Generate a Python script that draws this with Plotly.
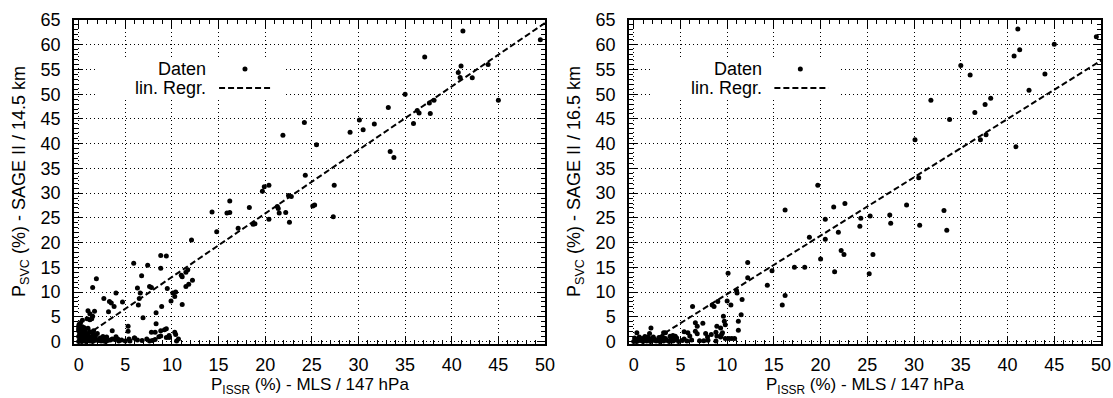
import plotly.graph_objects as go

# ---------------- data ----------------
left_x = [41.2, 49.5, 37.1, 41.0, 40.7, 40.9, 42.2, 43.9, 45.0, 35.0, 33.2, 37.6, 38.1, 36.3, 36.5, 37.7,
          35.9, 30.1, 31.7, 29.1, 30.5, 24.2, 21.9, 25.5, 33.4, 33.8, 24.3, 27.4, 19.7, 19.9, 20.4, 22.5,
          22.8, 25.3, 25.1, 27.3, 20.4, 21.4, 21.3, 21.5, 22.2, 22.6,
          12.1, 14.3, 14.8, 15.9, 16.2, 16.2, 17.1, 18.3, 18.7, 18.9,
          8.8, 9.4, 5.9, 7.4, 8.8, 1.9, 1.5, 6.75, 11.5, 11.7, 12.2, 11.5, 11.8, 11.0, 11.1, 6.3, 6.6,
          7.6, 7.8, 9.5, 10.4, 10.3, 10.1, 9.9, 11.1, 4.0, 2.7, 3.3, 3.5, 3.2, 4.7, 6.5, 6.4, 3.8, 8.3,
          8.9, 6.9, 8.3, 5.3, 5.3, 3.6, 1.0, 1.2, 1.7, 1.5, 1.4, 1.2, 0.9, 0.4, 0.2, 0.05, 0.6, 0.0,
          8.8, 9.4, 7.8, 10.3, 10.4, 9.7, 8.6, 9.4, 9.7, 10.7, 10.5, 7.3, 7.6, 6.3, 5.4, 5.5, 4.0, 4.2,
          3.9, 3.6, 3.4, 2.6, 2.5, 2.8, 2.7, 2.9, 1.2, 1.5, 8.2, 8.8, 9.2, 5.97,
          0.0, 0.1, 0.2, 0.3, 0.4, 0.5, 0.6, 0.7, 0.8, 0.9, 1.0, 1.1, 1.2, 1.3, 1.4, 1.6, 1.7, 1.8, 1.9,
          2.1, 2.3, 0.0, 0.1, 0.2, 0.0, 0.3, 0.5, 0.7, 0.4, 0.9, 1.2, 0.15, 0.6, 1.5, 0.0, 0.25, 1.0,
          1.6, 2.0, 0.35, 0.8, 1.5, 2.4, 3.1, 3.0, 4.3, 4.6, 5.0, 6.0, 6.8, 7.9, 8.2]
left_y = [62.8, 61.0, 57.5, 55.7, 54.4, 53.4, 53.3, 56.0, 48.8, 50.0, 47.3, 48.2, 48.8, 46.7, 46.2, 46.1,
          44.1, 44.8, 44.0, 42.3, 42.8, 44.3, 41.7, 39.8, 38.4, 37.2, 33.6, 31.6, 30.4, 31.3, 31.6, 29.5,
          29.3, 27.6, 27.4, 25.2, 24.7, 26.9, 27.3, 26.0, 26.1, 24.1,
          20.5, 26.2, 22.2, 26.0, 26.1, 28.4, 22.9, 27.1, 23.7, 23.8,
          17.4, 17.3, 15.8, 15.4, 14.8, 12.7, 10.9, 13.3, 14.0, 14.5, 12.4, 11.1, 11.6, 13.4, 13.1, 10.8, 9.8,
          11.1, 10.9, 10.7, 10.0, 9.1, 9.8, 8.2, 7.5, 9.8, 8.7, 8.1, 7.8, 6.0, 8.0, 8.7, 7.4, 7.1, 5.8,
          7.1, 4.8, 3.6, 3.1, 2.1, 2.2, 6.2, 5.6, 6.1, 5.1, 4.6, 4.4, 4.6, 4.3, 3.8, 3.5, 2.8, 2.2,
          2.2, 2.6, 1.9, 1.9, 1.4, 1.2, 0.95, 0.8, 0.8, 0.5, 0.1, 0.5, 0.1, 0.3, 0.5, 0.1, 0.95, 0.5,
          0.4, 0.5, 0.3, 1.0, 0.5, 0.6, 0.1, 0.0, 0.4, 0.8, 1.9, 1.1, 2.4, 0.7,
          0.0, 0.3, 0.1, 0.6, 0.2, 0.9, 0.4, 0.1, 0.7, 0.3, 1.2, 0.5, 0.1, 0.9, 0.3, 0.6, 0.2, 1.1, 0.4,
          0.2, 0.7, 1.0, 1.5, 2.0, 2.6, 1.3, 1.8, 2.3, 3.0, 1.6, 2.0, 0.8, 1.4, 1.5, 3.1, 2.5, 2.7,
          2.2, 1.6, 0.0, 0.0, 0.0, 0.1, 0.2, 0.9, 0.1, 0.3, 0.1, 0.7, 0.2, 0.2, 0.4]

right_x = [41.1, 49.5, 45.0, 41.3, 40.7, 35.0, 36.0, 44.0, 42.3, 31.8, 38.2, 37.6, 36.5, 33.8, 37.1, 37.7,
           40.9, 30.1, 30.5,
           19.7, 16.2, 21.4, 22.6, 20.5, 24.3, 25.3, 27.4, 27.5, 24.2, 21.9, 18.8, 20.5, 22.2, 22.5, 25.6,
           20.0, 17.2, 18.3, 21.5, 25.2, 14.8, 12.2, 12.2, 14.3, 16.2, 15.9, 11.6, 29.2, 33.2, 30.6, 33.5,
           10.1, 11.0, 11.06, 10.0, 10.4, 9.0, 9.6, 9.7, 9.8, 8.9, 9.3, 8.4, 8.6, 6.3, 6.6, 6.8, 7.4, 6.6,
           6.8, 5.4, 5.8, 6.0, 7.7, 7.9, 8.3, 8.8, 7.05, 7.5, 7.95, 8.9, 8.8, 9.4, 9.3, 9.5, 9.8, 10.2,
           10.5, 10.8, 11.2, 11.2, 11.5, 4.2, 3.2, 1.85, 0.34, 1.7, 3.4, 3.9, 4.1, 4.45, 4.6, 5.4,
           0.0, 0.2, 0.4, 0.5, 0.7, 0.9, 1.0, 1.1, 1.3, 1.4, 1.6, 1.8, 1.9, 2.0, 2.2, 2.4, 2.6, 2.8, 3.0,
           3.2, 3.4, 3.6, 3.8, 4.0, 4.2, 0.1, 0.6, 1.2, 2.1, 2.7, 3.1, 4.4, 4.8, 5.2, 5.7, 6.2, 0.3, 1.5]
right_y = [63.2, 61.6, 60.1, 59.0, 57.7, 55.8, 53.9, 54.1, 50.8, 48.8, 49.2, 47.9, 46.3, 44.9, 40.8, 41.8,
           39.4, 40.8, 33.1,
           31.6, 26.6, 27.2, 27.9, 24.7, 24.9, 25.4, 25.6, 23.9, 23.3, 22.1, 21.1, 20.7, 18.4, 17.6, 17.6,
           16.7, 15.0, 15.0, 14.1, 13.7, 14.3, 16.0, 12.9, 11.4, 9.3, 7.4, 8.5, 27.6, 26.5, 23.5, 22.5,
           13.8, 10.3, 9.8, 8.2, 7.4, 8.1, 5.1, 4.1, 3.4, 3.1, 2.75, 7.4, 7.1, 7.1, 3.8, 3.1, 3.7, 2.1,
           1.55, 2.0, 1.75, 1.1, 1.6, 0.9, 1.4, 1.9, 0.15, 0.15, 0.25, 1.1, 0.1, 1.4, 0.9, 1.75, 0.6, 0.6,
           0.6, 0.6, 2.3, 4.1, 5.4, 1.2, 1.75, 2.75, 1.75, 1.6, 1.75, 1.07, 0.87, 1.07, 0.7, 0.5,
           0.0, 0.3, 0.1, 0.5, 0.2, 0.6, 0.0, 0.3, 0.7, 0.1, 0.4, 0.0, 0.6, 0.2, 0.5, 0.1, 0.3, 0.0, 0.4,
           0.1, 0.6, 0.2, 0.0, 0.4, 0.1, 0.7, 0.9, 1.0, 0.9, 0.8, 0.9, 0.3, 0.0, 0.2, 0.1, 0.3, 0.0, 0.9]

# regression line end points
left_reg_x = [0.0, 50.0]
left_reg_y = [0.2, 64.4]
right_reg_x = [1.7, 50.0]
right_reg_y = [-0.2, 56.8]

x_ticks = [0, 5, 10, 15, 20, 25, 30, 35, 40, 45, 50]
y_ticks = [0, 5, 10, 15, 20, 25, 30, 35, 40, 45, 50, 55, 60, 65]
legend_labels = ["Daten", "lin. Regr."]
x_title = "P<sub>ISSR</sub> (%) - MLS / 147 hPa"
y_titles = ["P<sub>SVC</sub> (%) - SAGE II / 14.5 km", "P<sub>SVC</sub> (%) - SAGE II / 16.5 km"]

# ---------------- figure ----------------
W, H = 1113, 398
FONT = "Liberation Sans, Arial, Helvetica, sans-serif"
FS = 18
fig = go.Figure()

panels = [(left_x, left_y, left_reg_x, left_reg_y, "x", "y"),
          (right_x, right_y, right_reg_x, right_reg_y, "x2", "y2")]
for px, py, rx, ry, xa, ya in panels:
    fig.add_trace(go.Scatter(x=px, y=py, mode="markers", xaxis=xa, yaxis=ya,
                             marker=dict(color="black", size=5), showlegend=False,
                             cliponaxis=True))
    fig.add_trace(go.Scatter(x=rx, y=ry, mode="lines", xaxis=xa, yaxis=ya,
                             line=dict(color="black", width=2, dash="6px,3px"),
                             showlegend=False))

axis_common = dict(
    showline=True, linecolor="black", linewidth=1.5, mirror="allticks",
    ticks="inside", ticklen=8, tickwidth=1, tickcolor="black",
    showgrid=True, gridcolor="black", gridwidth=1, griddash="1px,3px",
    zeroline=False, tickfont=dict(family=FONT, size=FS, color="black"),
    automargin=False,
    minor=dict(ticks="inside", ticklen=4, tickwidth=1, tickcolor="black", dtick=1, showgrid=False),
)

xd = [[74 / W, 545 / W], [629 / W, 1101 / W]]
yd = [1 - 344 / H, 1 - 20 / H]
ytitle_x = [20 / W, 575 / W]
for i, (xn, yn) in enumerate([("xaxis", "yaxis"), ("xaxis2", "yaxis2")]):
    yref = "y" if i == 0 else "y2"
    xref = "x" if i == 0 else "x2"
    fig.layout[xn] = dict(axis_common, domain=xd[i], range=[-0.5, 50], tickvals=x_ticks,
                          anchor=yref, ticklabelstandoff=4)
    fig.layout[yn] = dict(axis_common, domain=yd, range=[-0.5, 65], tickvals=y_ticks,
                          anchor=xref, ticklabelstandoff=8)

    # axis titles
    fig.add_annotation(xref="paper", yref="paper", x=(xd[i][0] + xd[i][1]) / 2, y=0,
                       text=x_title, showarrow=False, xanchor="center", yanchor="bottom",
                       borderpad=0,
                       font=dict(family=FONT, size=17, color="black"))
    fig.add_annotation(xref="paper", yref="paper", x=ytitle_x[i], y=(yd[0] + yd[1]) / 2,
                       text=y_titles[i], showarrow=False, textangle=-90,
                       xanchor="center", yanchor="middle",
                       font=dict(family=FONT, size=FS, color="black"))

    # key (gnuplot style: text right aligned, sample on the right)
    dx, dy = f"{xref} domain", f"{yref} domain"
    fig.add_shape(type="rect", xref=dx, yref=dy, x0=0.049, x1=0.444, y0=0.753, y1=0.886,
                  fillcolor="white", line=dict(width=0), layer="above")
    fig.add_annotation(xref=dx, yref=dy, x=0.285, y=0.849, text=legend_labels[0], showarrow=False,
                       xanchor="right", yanchor="middle",
                       font=dict(family=FONT, size=FS, color="black"))
    fig.add_annotation(xref=dx, yref=dy, x=0.285, y=0.790, text=legend_labels[1], showarrow=False,
                       xanchor="right", yanchor="middle",
                       font=dict(family=FONT, size=FS, color="black"))
    fig.add_shape(type="circle", xref=dx, yref=dy, xsizemode="pixel", ysizemode="pixel",
                  xanchor=0.363, yanchor=0.849, x0=-2.5, x1=2.5, y0=-2.5, y1=2.5,
                  fillcolor="black", line=dict(width=0), layer="above")
    fig.add_shape(type="line", xref=dx, yref=dy, x0=0.308, x1=0.4225, y0=0.790, y1=0.790,
                  line=dict(color="black", width=2, dash="6px,3px"), layer="above")

fig.update_layout(width=W, height=H, margin=dict(l=0, r=0, t=0, b=0),
                  paper_bgcolor="white", plot_bgcolor="white", showlegend=False,
                  font=dict(family=FONT, size=FS, color="black"))

fig.write_html("out.html")
